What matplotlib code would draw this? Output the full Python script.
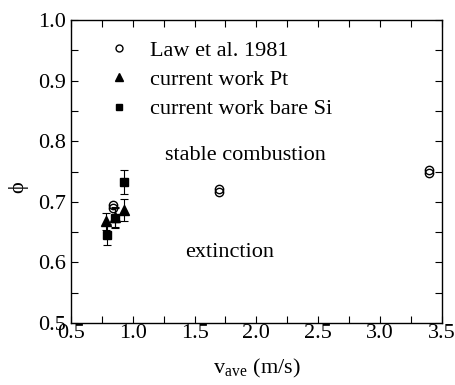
import matplotlib
matplotlib.use("Agg")
import matplotlib.pyplot as plt
from matplotlib.ticker import MultipleLocator
from matplotlib.lines import Line2D

plt.rcParams['font.family'] = ['Liberation Serif', 'DejaVu Serif']
plt.rcParams['mathtext.fontset'] = 'stix'

law_v = [0.84, 0.84, 1.70, 1.70, 3.40, 3.40]
law_phi = [0.695, 0.690, 0.721, 0.716, 0.752, 0.748]

pt_v = [0.78, 0.855, 0.93]
pt_phi = [0.668, 0.675, 0.686]
pt_err = [0.014, 0.016, 0.018]

si_v = [0.79, 0.855, 0.925]
si_phi = [0.646, 0.673, 0.733]
si_err = [0.017, 0.017, 0.020]

FS = 16

fig = plt.figure(figsize=(4.56, 3.85), dpi=100)
ax = fig.add_axes([0.1557, 0.161, 0.813, 0.787])

ax.plot(law_v, law_phi, 'o', mfc='none', mec='black', ms=6, mew=1.0, zorder=3)
ax.errorbar(pt_v, pt_phi, yerr=pt_err, fmt='^', color='black', ms=7, capsize=3, elinewidth=0.8, capthick=0.8)
ax.errorbar(si_v, si_phi, yerr=si_err, fmt='s', color='black', ms=6, capsize=3, elinewidth=0.8, capthick=0.8)

ax.set_xlim(0.5, 3.5)
ax.set_ylim(0.5, 1.0)
ax.xaxis.set_major_locator(MultipleLocator(0.5))
ax.xaxis.set_minor_locator(MultipleLocator(0.25))
ax.yaxis.set_major_locator(MultipleLocator(0.1))
ax.yaxis.set_minor_locator(MultipleLocator(0.05))
ax.tick_params(which='both', direction='in', top=True, right=True, labelsize=FS, width=0.8)
ax.tick_params(which='major', length=5)
ax.tick_params(which='minor', length=5)
ax.tick_params(axis='x', pad=1)
for s in ax.spines.values():
    s.set_linewidth(1.0)

ax.set_xlabel(r'v$_{\mathregular{ave}}$ (m/s)', fontsize=FS, labelpad=10)
ax.set_ylabel('ϕ', fontsize=FS)
ax.yaxis.set_label_coords(-0.115, 0.45)

ax.text(1.26, 0.777, 'stable combustion', fontsize=FS, va='center')
ax.text(1.42, 0.617, 'extinction', fontsize=FS, va='center')

handles = [
    Line2D([], [], ls='none', marker='o', mfc='none', mec='black', ms=5, mew=1.0),
    Line2D([], [], ls='none', marker='^', color='black', ms=6),
    Line2D([], [], ls='none', marker='s', color='black', ms=5),
]
labels = ['Law et al. 1981', 'current work Pt', 'current work bare Si']
ax.legend(handles, labels, loc='upper left', bbox_to_anchor=(0.04, 1.0), frameon=False, fontsize=FS,
          handletextpad=0.8, labelspacing=0.4, handlelength=1.2)

fig.savefig('out.png', dpi=100)
